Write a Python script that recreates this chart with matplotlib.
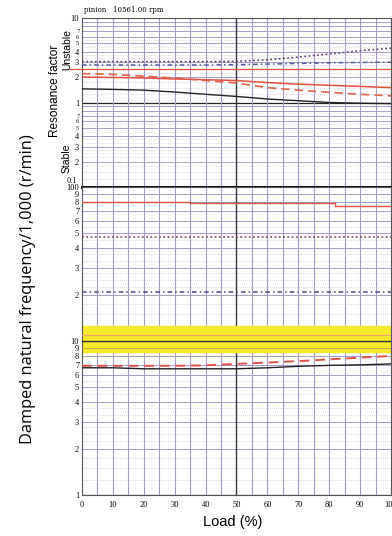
import numpy as np
import matplotlib
matplotlib.use("Agg")
import matplotlib.pyplot as plt
from matplotlib.ticker import FixedLocator, FixedFormatter, NullLocator

# load axis
load = [0, 10, 20, 30, 40, 50, 60, 70, 80, 90, 100]

# resonance factor (upper panel)
limit_res = 2.5
res_dotted = [3.05, 3.05, 3.05, 3.05, 3.05, 3.07, 3.2, 3.45, 3.75, 4.1, 4.4]
res_dashdot = [2.78, 2.78, 2.78, 2.78, 2.78, 2.8, 2.85, 2.9, 2.95, 2.98, 3.0]
res_red = [2.0, 1.98, 1.95, 1.9, 1.86, 1.82, 1.72, 1.65, 1.6, 1.55, 1.5]
res_red_dash = [2.2, 2.15, 2.05, 1.95, 1.82, 1.7, 1.5, 1.4, 1.32, 1.25, 1.2]
res_black = [1.45, 1.43, 1.4, 1.33, 1.25, 1.18, 1.1, 1.05, 1.0, 0.98, 0.97]

# damped natural frequency / 1000 (lower panel)
freq_red_x = [0, 35, 35, 82, 82, 100]
freq_red = [80, 80, 79, 79, 75, 75]
freq_dotted = [47, 47, 47, 47, 47, 47, 47, 47, 47, 47, 47]
freq_dashdot = [20.7, 20.7, 20.7, 20.7, 20.7, 20.7, 20.7, 20.7, 20.7, 20.7, 20.7]
band_low, band_high = 8.5, 12.5
band_mid = 10
band_orange = 11
freq_red_dash = [6.9, 6.9, 6.9, 6.9, 6.95, 7.1, 7.25, 7.4, 7.6, 7.8, 8.0]
freq_black = [6.7, 6.7, 6.6, 6.6, 6.6, 6.6, 6.7, 6.85, 6.95, 7.0, 7.1]

grid_col = "#a89ac8"
minor_col = "#cfc9e0"
red = "#e0503c"
tick_font = {"family": "Liberation Serif", "size": 6}

fig = plt.figure(figsize=(3.92, 5.36), dpi=100)
ax1 = fig.add_axes([82 / 392, 1 - 187 / 536, 309 / 392, 169 / 536])
ax2 = fig.add_axes([82 / 392, 1 - 495 / 536, 309 / 392, 308 / 536])


def draw_grid(ax, lo, hi):
    decades = []
    d = lo
    while d < hi:
        decades.append(d)
        d *= 10
    for d in decades:
        for m in range(1, 10):
            v = d * m
            if m == 1:
                ax.axhline(v, color="#222222", lw=0.9, zorder=1)
            else:
                ax.axhline(v, color=grid_col, lw=0.7, zorder=1)
        for m in [1.25, 1.5, 1.75, 2.25, 2.5, 2.75, 3.33, 3.66, 4.5, 5.5]:
            ax.axhline(d * m, color=minor_col, lw=0.6, ls=(0, (1, 1.5)), zorder=1)
    for x in range(5, 100, 5):
        if x == 50:
            ax.axvline(x, color="#333333", lw=1.0, zorder=1)
        else:
            ax.axvline(x, color=grid_col, lw=0.8, zorder=1)
    ax.set_xlim(0, 100)
    ax.set_yscale("log")
    ax.set_ylim(lo, hi)
    ax.yaxis.set_minor_locator(NullLocator())
    ax.tick_params(length=0, pad=2)
    for s in ax.spines.values():
        s.set_color("#555555")
        s.set_linewidth(0.8)


draw_grid(ax1, 0.1, 10)
draw_grid(ax2, 1, 100)

# upper panel curves
ax1.axhline(limit_res, color=red, lw=0.9, zorder=3)
ax1.plot([-4, 0], [limit_res, limit_res], color=red, lw=0.9, clip_on=False)
ax1.plot(load, res_dotted, color="#5a3a6a", lw=1.1, ls=(0, (1.2, 1.6)), zorder=4)
ax1.plot(load, res_dashdot, color="#4a5aa8", lw=1.1, ls=(0, (3, 2, 1, 2)), zorder=4)
ax1.plot(load, res_red, color=red, lw=1.1, zorder=4)
ax1.plot(load, res_red_dash, color="#e0604a", lw=1.2, ls=(0, (5, 3)), zorder=4)
ax1.plot(load, res_black, color="#222222", lw=1.0, zorder=4)

# lower panel curves
ax2.axhspan(band_low, band_high, color="#f4ea2a", zorder=2)
ax2.axhline(band_mid, color="#333333", lw=1.0, zorder=3)
ax2.axhline(band_orange, color="#f0a070", lw=0.8, zorder=3)
ax2.axhline(9, color="#b0a060", lw=0.6, zorder=3)
ax2.plot(freq_red_x, freq_red, color=red, lw=1.0, zorder=4)
ax2.plot(load, freq_dotted, color="#7a4050", lw=1.1, ls=(0, (1.2, 1.6)), zorder=4)
ax2.plot(load, freq_dashdot, color="#4a4a90", lw=1.1, ls=(0, (3, 2, 1, 2)), zorder=4)
ax2.plot(load, freq_red_dash, color="#e0504a", lw=1.4, ls=(0, (5, 3)), zorder=4)
ax2.plot(load, freq_black, color="#222222", lw=1.0, zorder=4)

# boundary between panels
ax1.axhline(0.1, color="#111111", lw=2.2, zorder=5, clip_on=False)

# tick labels
top_ticks = [0.2, 0.3, 0.4, 0.5, 0.6, 0.7, 1, 2, 3, 4, 5, 6, 7, 10]
top_labels = ["2", "3", "4", "5", "6", "7", "1", "2", "3", "4", "5", "6", "7", "10"]
ax1.yaxis.set_major_locator(FixedLocator(top_ticks))
ax1.yaxis.set_major_formatter(FixedFormatter(top_labels))
ax1.set_xticks([])
for t in ax1.get_yticklabels():
    t.set_fontfamily(tick_font["family"])
    t.set_fontsize(tick_font["size"])
    if t.get_text() in ("5", "6", "7"):
        t.set_fontsize(4.5)
ax1.text(-1.5, 0.105, "0.1", ha="right", va="bottom", fontsize=6,
         family="Liberation Serif", transform=ax1.transData)

bot_ticks = [2, 3, 4, 5, 6, 7, 8, 9, 10, 20, 30, 40, 50, 60, 70, 80, 90, 100]
bot_labels = ["2", "3", "4", "5", "6", "7", "8", "9", "10", "2", "3", "4", "5", "6",
              "7", "8", "9", "100"]
ax2.yaxis.set_major_locator(FixedLocator([1] + bot_ticks))
ax2.yaxis.set_major_formatter(FixedFormatter(["1"] + bot_labels))
ax2.set_xticks(load)
ax2.set_xticklabels([str(v) for v in load])
for t in ax2.get_yticklabels() + ax2.get_xticklabels():
    t.set_fontfamily(tick_font["family"])
    t.set_fontsize(tick_font["size"])
ax2.tick_params(axis="x", pad=4)
ax2.tick_params(axis="y", pad=2)

# text
fig.text(84 / 392, 1 - 10 / 536, "pinion   10561.00 rpm", fontsize=5,
         family="DejaVu Serif", va="center", ha="left")
fig.text(28 / 392, 1 - 289 / 536, "Damped natural frequency/1,000 (r/min)",
         rotation=90, ha="center", va="center", fontsize=11.8, family="Open Sans")
fig.text(55 / 392, 1 - 91 / 536, "Resonance factor", rotation=90, ha="center",
         va="center", fontsize=8.5, family="Liberation Sans")
fig.text(67 / 392, 1 - 50 / 536, "Unstable", rotation=90, ha="center",
         va="center", fontsize=7.5, family="Liberation Sans")
fig.text(67 / 392, 1 - 158 / 536, "Stable", rotation=90, ha="center",
         va="center", fontsize=7.5, family="Liberation Sans")
fig.text(233 / 392, 1 - 522 / 536, "Load (%)", ha="center", va="center",
         fontsize=10.5, family="Liberation Sans")

fig.savefig("out.png", dpi=100)
